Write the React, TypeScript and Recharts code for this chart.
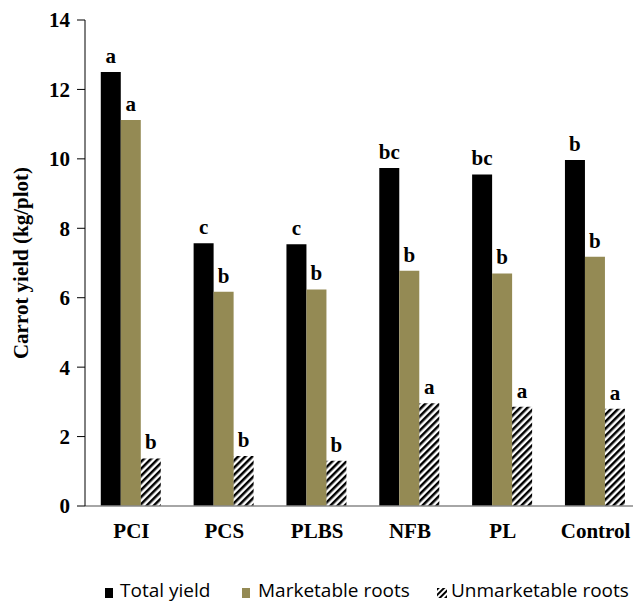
import React from 'react';
import { BarChart, Bar, XAxis, YAxis, LabelList, Legend } from 'recharts';

const categories = ['PCI', 'PCS', 'PLBS', 'NFB', 'PL', 'Control'];
const totalYield = [12.5, 7.57, 7.54, 9.74, 9.55, 9.97];
const marketableRoots = [11.12, 6.17, 6.24, 6.78, 6.7, 7.18];
const unmarketableRoots = [1.37, 1.44, 1.3, 2.96, 2.86, 2.8];
const totalLetters = ['a', 'c', 'c', 'bc', 'bc', 'b'];
const marketableLetters = ['a', 'b', 'b', 'b', 'b', 'b'];
const unmarketableLetters = ['b', 'b', 'b', 'a', 'a', 'a'];
const yTicks = [0, 2, 4, 6, 8, 10, 12, 14];
const seriesNames = ['Total yield', 'Marketable roots', 'Unmarketable roots'];

const data = categories.map((c, i) => ({
  name: c,
  total: totalYield[i],
  marketable: marketableRoots[i],
  unmarketable: unmarketableRoots[i],
  tL: totalLetters[i],
  mL: marketableLetters[i],
  uL: unmarketableLetters[i],
}));

const SERIF = '"Liberation Serif", "Times New Roman", serif';
const OLIVE = '#948A54';

const letterLabel = (props: any) => {
  const { x, y, width, value } = props;
  return (
    <text
      x={x + width / 2}
      y={y - 9}
      textAnchor="middle"
      fontFamily={SERIF}
      fontWeight="bold"
      fontSize={21}
      fill="#000"
    >
      {value}
    </text>
  );
};

const LegendContent = () => {
  const iconX = [105, 242, 437];
  const textX = [120, 258, 451];
  return (
    <div style={{ position: 'relative', width: 633, height: 27 }}>
      {seriesNames.map((n, i) => (
        <React.Fragment key={n}>
          <svg width={10} height={10} style={{ position: 'absolute', left: iconX[i], top: 13 }}>
            <defs>
              <pattern id="lgHatch" width={4} height={4} patternUnits="userSpaceOnUse" patternTransform="rotate(45)">
                <rect x={0} y={0} width={2} height={4} fill="#000" />
              </pattern>
            </defs>
            <rect
              x={0}
              y={0}
              width={i === 2 ? 10 : 8}
              height={10}
              fill={i === 0 ? '#000' : i === 1 ? OLIVE : 'url(#lgHatch)'}
            />
          </svg>
          <span
            style={{
              position: 'absolute',
              left: textX[i],
              top: 5,
              whiteSpace: 'nowrap',
              fontFamily: '"Open Sans", "Noto Sans", sans-serif',
              fontSize: 19,
              lineHeight: '20px',
              color: '#000',
            }}
          >
            {n}
          </span>
        </React.Fragment>
      ))}
    </div>
  );
};

const YLabel = (props: any) => {
  const { viewBox } = props;
  const cy = viewBox.y + viewBox.height / 2;
  const cx = 21;
  return (
    <text
      x={cx}
      y={cy}
      transform={`rotate(-90, ${cx}, ${cy})`}
      textAnchor="middle"
      dominantBaseline="central"
      fontFamily={SERIF}
      fontWeight="bold"
      fontSize={21}
      fill="#000"
    >
      Carrot yield (kg/plot)
    </text>
  );
};

export default function App() {
  return (
    <div
      style={{
        position: 'fixed',
        left: 0,
        top: 0,
        width: 633,
        height: 602,
        overflow: 'hidden',
        background: '#fff',
      }}
    >
      <BarChart
        width={650}
        height={602}
        data={data}
        margin={{ top: 20, right: 8, bottom: 0, left: 0 }}
        barCategoryGap="17%"
        barGap={0}
      >
        <defs>
          <pattern id="hatch" width={5} height={5} patternUnits="userSpaceOnUse" patternTransform="rotate(45)">
            <rect x={0} y={0} width={2.5} height={5} fill="#000" />
          </pattern>
        </defs>
        <XAxis
          dataKey="name"
          height={96}
          axisLine={{ stroke: '#888888', strokeWidth: 1.5 }}
          tickLine={false}
          tickSize={0}
          tickMargin={17}
          tick={{ fontFamily: SERIF, fontWeight: 'bold', fontSize: 21, fill: '#000' }}
          interval={0}
        />
        <YAxis
          width={85}
          domain={[0, 14]}
          ticks={yTicks}
          interval={0}
          axisLine={{ stroke: '#000', strokeWidth: 1 }}
          tickLine={{ stroke: '#000', strokeWidth: 1 }}
          tickSize={8}
          tickMargin={7}
          tick={{ fontFamily: SERIF, fontWeight: 'bold', fontSize: 21, fill: '#000' }}
          label={<YLabel />}
        />
        <Legend
          layout="vertical"
          align="center"
          verticalAlign="middle"
          wrapperStyle={{ position: 'absolute', left: 0, top: 575, width: 633, height: 27 }}
          content={<LegendContent />}
        />
        <Bar dataKey="total" name={seriesNames[0]} fill="#000" isAnimationActive={false}>
          <LabelList dataKey="tL" content={letterLabel} />
        </Bar>
        <Bar dataKey="marketable" name={seriesNames[1]} fill={OLIVE} isAnimationActive={false}>
          <LabelList dataKey="mL" content={letterLabel} />
        </Bar>
        <Bar dataKey="unmarketable" name={seriesNames[2]} fill="url(#hatch)" isAnimationActive={false}>
          <LabelList dataKey="uL" content={letterLabel} />
        </Bar>
      </BarChart>
    </div>
  );
}
